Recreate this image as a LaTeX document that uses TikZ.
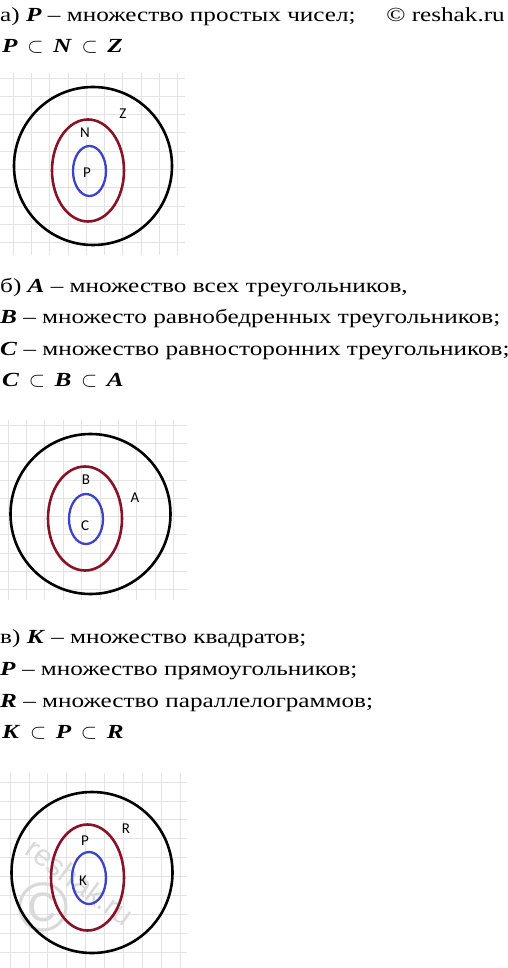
\documentclass[tikz,border=0pt]{standalone}
\usepackage{fontspec}
\setmainfont[FakeStretch=1.26]{Liberation Serif}
\newfontfamily\labelfont{Carlito}
\newfontfamily\markfont{Liberation Sans}
\definecolor{setred}{RGB}{136,18,40}
\definecolor{setblue}{RGB}{62,66,200}
\newcommand{\setname}[1]{\textbf{\textit{#1}}}
\tikzset{
  textline/.style={anchor=base west, inner sep=0pt, font=\fontsize{20}{24}\selectfont},
  setlabel/.style={inner sep=0pt, font=\labelfont\fontsize{15}{18}\selectfont},
  outerset/.style={draw=black, line width=2.6pt},
  middleset/.style={draw=setred, line width=2.6pt},
  innerset/.style={draw=setblue, line width=2.3pt},
  gridline/.style={draw=gray!22, line width=0.8pt}
}
\begin{document}
\begin{tikzpicture}[x=1pt, y=-1pt]
    \useasboundingbox (0,0) rectangle (508,968);

    \node[textline] (a1) at (0, 22) {а) \setname{P} – множество простых чисел;};
    \node[textline, anchor=base east] (mark) at (505, 22) {© reshak.ru};
    \node[textline] (a2) at (2, 53) {\setname{P} \,$\subset$\, \setname{N} \,$\subset$\, \setname{Z}};

    \foreach \gx in {13,31.3,...,180} \draw[gridline] (\gx, 73) -- (\gx, 255);
    \foreach \gy in {78,96.3,...,245} \draw[gridline] (0, \gy) -- (185, \gy);
    \draw[outerset] (93, 166) circle [radius=79pt];
    \draw[middleset] (88, 170.5) ellipse [x radius=36pt, y radius=51pt];
    \draw[innerset] (89.5, 171) ellipse [x radius=16.5pt, y radius=25pt];
    \node[setlabel] (lz) at (123, 114) {Z};
    \node[setlabel] (ln) at (85, 133) {N};
    \node[setlabel] (lp) at (87, 173) {P};

    \node[textline] (b1) at (0, 292) {б) \setname{A} – множество всех треугольников,};
    \node[textline] (b2) at (0, 323) {\setname{B} – множесто равнобедренных треугольников;};
    \node[textline] (b3) at (0, 355) {\setname{C} – множество равносторонних треугольников;};
    \node[textline] (b4) at (2, 386) {\setname{C} \,$\subset$\, \setname{B} \,$\subset$\, \setname{A}};

    \foreach \gx in {8,26.4,...,180} \draw[gridline] (\gx, 420) -- (\gx, 600);
    \foreach \gy in {425,443.3,...,595} \draw[gridline] (0, \gy) -- (187, \gy);
    \draw[outerset] (90.5, 514) circle [radius=80pt];
    \draw[middleset] (85, 518.5) ellipse [x radius=37pt, y radius=52pt];
    \draw[innerset] (86, 519) ellipse [x radius=17pt, y radius=25pt];
    \node[setlabel] (lb) at (86, 480) {B};
    \node[setlabel] (la) at (135, 498) {A};
    \node[setlabel] (lc) at (85, 526) {C};

    \node[textline] (c1) at (0, 643) {в) \setname{K} – множество квадратов;};
    \node[textline] (c2) at (0, 675) {\setname{P} – множество прямоугольников;};
    \node[textline] (c3) at (0, 707) {\setname{R} – множество параллелограммов;};
    \node[textline] (c4) at (2, 738) {\setname{K} \,$\subset$\, \setname{P} \,$\subset$\, \setname{R}};

    \foreach \gx in {10,28.9,...,185} \draw[gridline] (\gx, 773) -- (\gx, 968);
    \foreach \gy in {782,800.9,...,965} \draw[gridline] (0, \gy) -- (187, \gy);
    \node[text=gray!30, font=\markfont\fontsize{70}{70}\selectfont, inner sep=0pt] (copy) at (43, 907) {©};
    \node[text=gray!30, font=\markfont\fontsize{30}{30}\selectfont, inner sep=0pt, rotate=-36] (wm) at (80, 882) {reshak.ru};
    \draw[outerset] (92, 872.5) circle [radius=80.5pt];
    \draw[middleset] (87.5, 877.5) ellipse [x radius=36.5pt, y radius=53pt];
    \draw[innerset] (89, 878) ellipse [x radius=17pt, y radius=26pt];
    \node[setlabel] (lr) at (126, 829) {R};
    \node[setlabel] (lpp) at (85, 841) {P};
    \node[setlabel] (lk) at (83, 881) {K};
\end{tikzpicture}
\end{document}
